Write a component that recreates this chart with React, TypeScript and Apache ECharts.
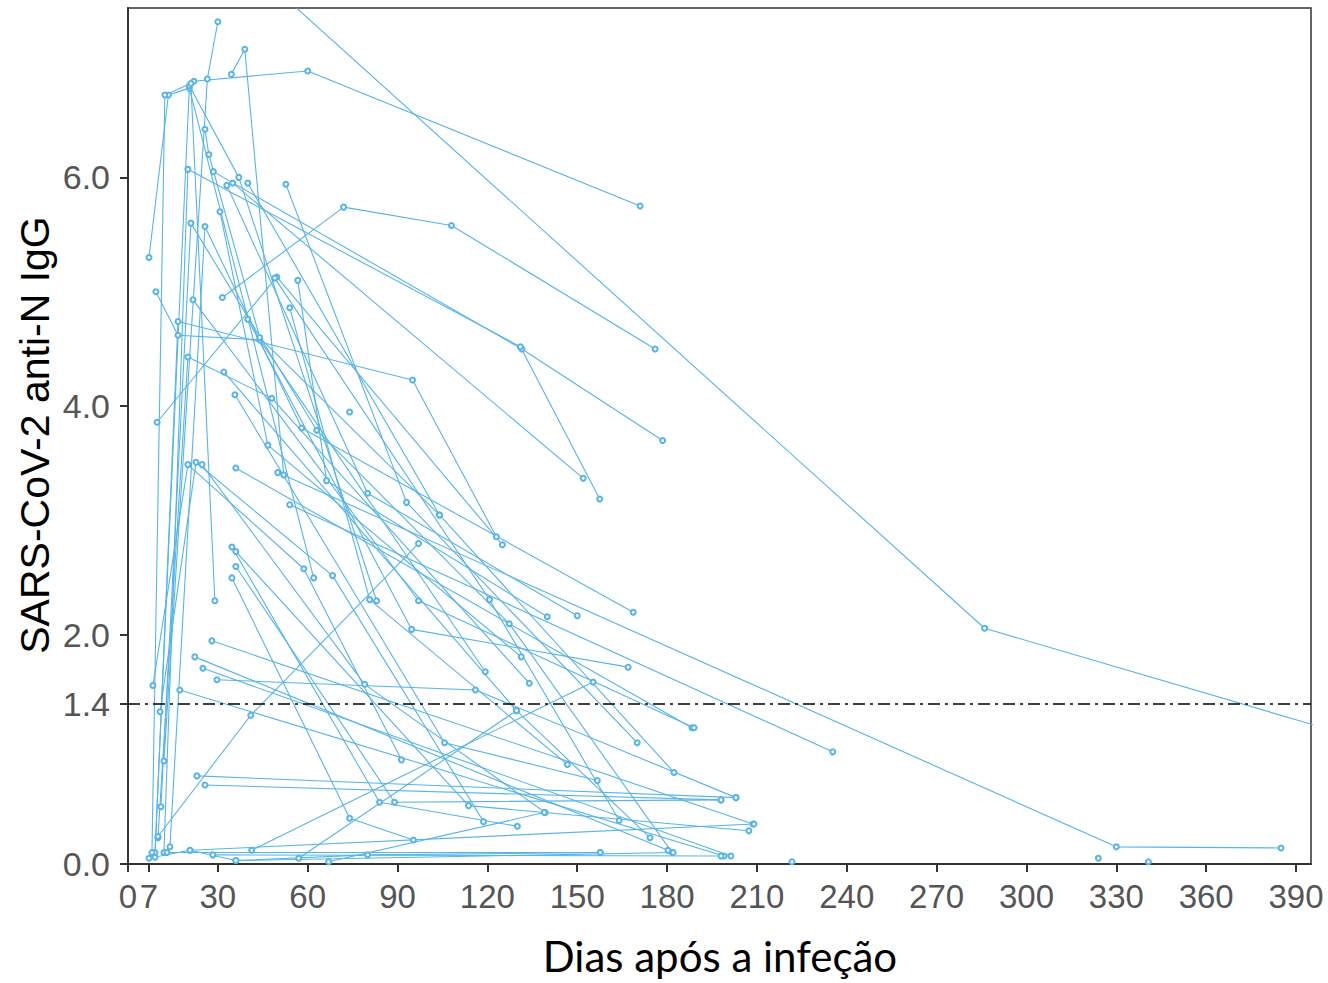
import React, { useEffect, useRef } from "react";
import * as echarts from "echarts";

const xTickValues = [0, 7, 30, 60, 90, 120, 150, 180, 210, 240, 270, 300, 330, 360, 390];
const yTickValues = [0, 1.4, 2, 4, 6];
const threshold = 1.4;
const xTitle = "Dias após a infeção";
const yTitle = "SARS-CoV-2 anti-N IgG";

// each subject: [day, IgG]
const subjects: number[][][] = [
  [[30, 8.1], [286, 2.06], [420, 1.03]],
  [[22, 6.84], [60, 6.93], [171, 5.75]],
  [[31.5, 4.95], [72, 5.74], [108, 5.58], [176, 4.5]],
  [[28.5, 6.05], [131.5, 4.5], [178.5, 3.7]],
  [[12, 0.1], [20, 6.07], [131, 4.52], [157.5, 3.19]],
  [[35, 5.95], [152, 3.37]],
  [[9, 0.06], [16.7, 4.74], [95, 4.23], [123, 2.86]],
  [[7, 5.3], [13.5, 6.72], [20.5, 6.78], [62, 2.5]],
  [[12, 0.9], [26.5, 6.86], [30, 7.36]],
  [[34.5, 6.9], [39, 7.12], [52, 3.4]],
  [[9, 0.1], [20.5, 6.8], [37, 6.0], [83, 2.3]],
  [[9.7, 3.86], [49.7, 5.13], [125, 2.79]],
  [[50, 3.42], [330, 0.15], [385, 0.14]],
  [[54, 3.14], [235.3, 0.98]],
  [[36, 3.46], [188.3, 1.19]],
  [[52.7, 5.94], [93, 3.16], [170, 1.06]],
  [[40, 5.95], [104, 3.05], [182.3, 0.8]],
  [[33, 5.93], [80, 3.24], [150, 2.17]],
  [[56.7, 5.1], [66.3, 3.35], [140, 2.16]],
  [[49, 5.12], [120.7, 2.31], [164, 0.38]],
  [[14, 0.15], [25.7, 5.57], [58, 3.81], [168.7, 2.2]],
  [[11, 0.5], [21, 5.6], [63, 3.79], [127.3, 2.1], [181.7, 0.1]],
  [[30.7, 5.7], [46.7, 3.66], [131.3, 1.81]],
  [[74, 3.95]],
  [[54, 4.86], [80.7, 2.31], [146.7, 0.87]],
  [[9.3, 5.0], [16.7, 4.62], [44, 4.58], [119.3, 1.68]],
  [[10, 0.23], [20, 4.43], [48, 4.07], [134, 1.58]],
  [[40, 4.76], [94.7, 2.05], [167, 1.72]],
  [[32, 4.3], [129.7, 1.34], [174.3, 0.23]],
  [[35.7, 4.1], [105.7, 1.06], [156.7, 0.73]],
  [[8.3, 1.56], [20, 3.49], [58.7, 2.58], [91.3, 0.91]],
  [[10.7, 1.33], [22.7, 3.51], [68.3, 2.52], [118.7, 0.37]],
  [[24.7, 3.49], [79, 1.57], [139.3, 0.45]],
  [[34.7, 2.77], [84, 0.54], [130, 0.33]],
  [[36, 2.73], [113.7, 0.51], [207.3, 0.29]],
  [[36, 2.6], [89, 0.54], [198, 0.56]],
  [[34.7, 2.5], [74, 0.4], [95.3, 0.21]],
  [[28, 1.95], [208.7, 0.35]],
  [[22.3, 1.81], [180.3, 0.12]],
  [[25, 1.71], [201.3, 0.07]],
  [[29.7, 1.61], [116, 1.52], [203, 0.58]],
  [[17.3, 1.52], [199, 0.07]],
  [[13, 0.1], [157.7, 0.1]],
  [[8, 0.1], [12.3, 6.72], [21, 6.82], [29, 2.3]],
  [[7, 0.05], [20.7, 0.12], [36, 0.03], [80, 0.08], [157.7, 0.1]],
  [[41.3, 0.12], [155.3, 1.59]],
  [[57, 0.05], [129.7, 1.34]],
  [[10, 0.24], [41, 1.3], [97, 2.8]],
  [[23, 0.77], [203, 0.58]],
  [[25.7, 0.69], [198, 0.56]],
  [[324, 0.05]],
  [[340.7, 0.02]],
  [[221.7, 0.02]],
  [[20.7, 0.12], [209, 0.35]],
  [[28.3, 0.08], [198, 0.07]],
  [[36, 0.03], [182, 0.1]],
  [[25.7, 6.42], [27, 6.2], [44, 4.6], [104, 3.05]],
  [[21.7, 4.93], [97, 2.3], [189, 1.19]],
  [[67, 0.02], [139, 0.45]],
];

export default function App() {
  const ref = useRef<HTMLDivElement>(null);
  useEffect(() => {
    const chart = echarts.init(ref.current!, null, { renderer: "svg" });
    const color = "#56B4E9";
    const series: any[] = subjects.map((pts) => ({
      type: "line",
      data: pts,
      symbol: "emptyCircle",
      symbolSize: 5,
      showAllSymbol: true,
      lineStyle: { color, width: 1.1 },
      itemStyle: { color, borderColor: color, borderWidth: 1 },
      clip: true,
      silent: true,
    }));
    series.push({
      type: "line",
      data: [],
      markLine: {
        silent: true,
        symbol: "none",
        label: { show: false },
        lineStyle: { color: "#000", width: 1.5, type: [12, 5, 3, 5] },
        data: [{ yAxis: threshold }],
      },
    });
    chart.setOption({
      animation: false,
      backgroundColor: "#fff",
      grid: {
        left: 128,
        right: 17,
        top: 8,
        bottom: 119,
        show: true,
        borderColor: "#333",
        borderWidth: 1.5,
      },
      xAxis: {
        type: "value",
        min: 0,
        max: 395,
        splitLine: { show: false },
        axisLine: { show: true, onZero: false, lineStyle: { color: "#333", width: 2 } },
        axisTick: { show: true, customValues: xTickValues, length: 8, lineStyle: { color: "#333", width: 2 } },
        axisLabel: {
          customValues: xTickValues,
          fontSize: 33,
          color: "#555",
          margin: 16,
          fontFamily: "Liberation Sans",
          formatter: (v: number) => String(v),
        },
      },
      yAxis: {
        type: "value",
        min: 0,
        max: 7.48,
        splitLine: { show: false },
        axisLine: { show: true, onZero: false, lineStyle: { color: "#333", width: 2 } },
        axisTick: { show: true, customValues: yTickValues, length: 8, lineStyle: { color: "#333", width: 2 } },
        axisLabel: {
          customValues: yTickValues,
          fontSize: 34,
          color: "#555",
          margin: 18,
          fontFamily: "Liberation Sans",
          formatter: (v: number) => v.toFixed(1),
        },
      },
      graphic: [
        {
          type: "text",
          x: 35,
          y: 435,
          rotation: Math.PI / 2,
          style: {
            text: yTitle,
            fill: "#000",
            font: '41px "Liberation Sans"',
            textAlign: "center",
            textVerticalAlign: "middle",
          },
        },
        {
          type: "text",
          x: 720,
          y: 956,
          style: {
            text: xTitle,
            fill: "#000",
            font: '42px Lato',
            textAlign: "center",
            textVerticalAlign: "middle",
          },
        },
      ],
      series,
    });
    return () => chart.dispose();
  }, []);
  return (
    <div
      ref={ref}
      style={{ position: "absolute", left: 0, top: 0, width: 1328, height: 983, background: "#fff" }}
    />
  );
}
